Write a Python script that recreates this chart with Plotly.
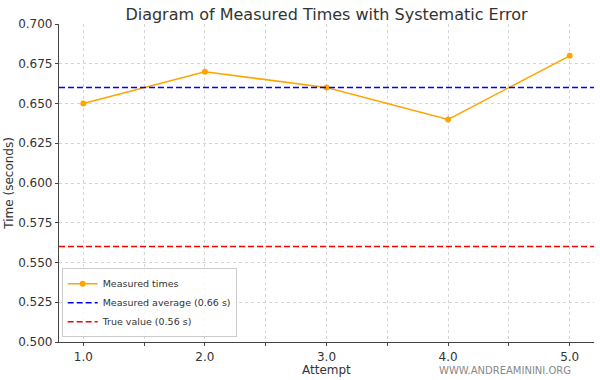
import plotly.graph_objects as go

attempts = [1, 2, 3, 4, 5]
times = [0.65, 0.67, 0.66, 0.64, 0.68]
measured_avg = 0.66
true_value = 0.56
x_tickvals = [1.0, 1.5, 2.0, 2.5, 3.0, 3.5, 4.0, 4.5, 5.0]
x_ticktext = ["1.0", "", "2.0", "", "3.0", "", "4.0", "", "5.0"]
y_tickvals = [0.500, 0.525, 0.550, 0.575, 0.600, 0.625, 0.650, 0.675, 0.700]

fig = go.Figure()
fig.add_trace(go.Scatter(x=attempts, y=times, mode="lines+markers", name="Measured times",
                         line=dict(color="#FFA500", width=1.5), marker=dict(color="#FFA500", size=6)))
fig.add_trace(go.Scatter(x=[0.8, 5.2], y=[measured_avg]*2, mode="lines",
                         name="Measured average (0.66 s)", line=dict(color="#0000FF", width=1.5, dash="6px,3px")))
fig.add_trace(go.Scatter(x=[0.8, 5.2], y=[true_value]*2, mode="lines",
                         name="True value (0.56 s)", line=dict(color="#FF0000", width=1.5, dash="6px,3px")))

font = "DejaVu Sans"
fig.update_layout(
    width=600, height=380,
    margin=dict(l=59, r=6, t=24, b=38),
    paper_bgcolor="white", plot_bgcolor="white",
    font=dict(family=font, size=12, color="#333"),
    title=dict(text="Diagram of Measured Times with Systematic Error", x=0.5, xanchor="center", xref="paper",
               y=0.962, yanchor="middle", font=dict(size=16, color="#333")),
    showlegend=True,
    legend=dict(x=0.005, y=0.015, xanchor="left", yanchor="bottom", bgcolor="rgba(255,255,255,0.8)",
                bordercolor="#ccc", borderwidth=1, font=dict(size=9.5, color="#333"),
                tracegroupgap=0, itemwidth=30),
    xaxis=dict(range=[0.8, 5.2], tickvals=x_tickvals, ticktext=x_ticktext,
               showgrid=True, gridcolor="#d5d5d5", griddash="dot", gridwidth=1,
               showline=True, linecolor="#444", linewidth=1.2, ticks="outside", ticklen=3,
               tickcolor="#444", zeroline=False),
    yaxis=dict(range=[0.5, 0.7], tickvals=y_tickvals, tickformat=".3f",
               showgrid=True, gridcolor="#d5d5d5", griddash="dot", gridwidth=1,
               showline=True, linecolor="#444", linewidth=1.2, ticks="outside", ticklen=3,
               tickcolor="#444", zeroline=False),
    annotations=[
        dict(text="Time (seconds)", xref="paper", yref="paper", x=-0.094, y=0.5,
             xanchor="center", yanchor="middle", textangle=-90, showarrow=False,
             font=dict(size=12, color="#333")),
        dict(text="Attempt", xref="paper", yref="paper", x=0.5, y=-0.088,
             xanchor="center", yanchor="middle", showarrow=False,
             font=dict(size=12, color="#333")),
        dict(text="WWW.ANDREAMININI.ORG", xref="paper", yref="paper", x=0.96, y=-0.09,
             xanchor="right", yanchor="middle", showarrow=False,
             font=dict(size=10, color="#888"))],
)
fig.write_html("out.html", config={"displayModeBar": False},
               post_script="document.body.style.margin='0';document.body.style.overflow='hidden';")
